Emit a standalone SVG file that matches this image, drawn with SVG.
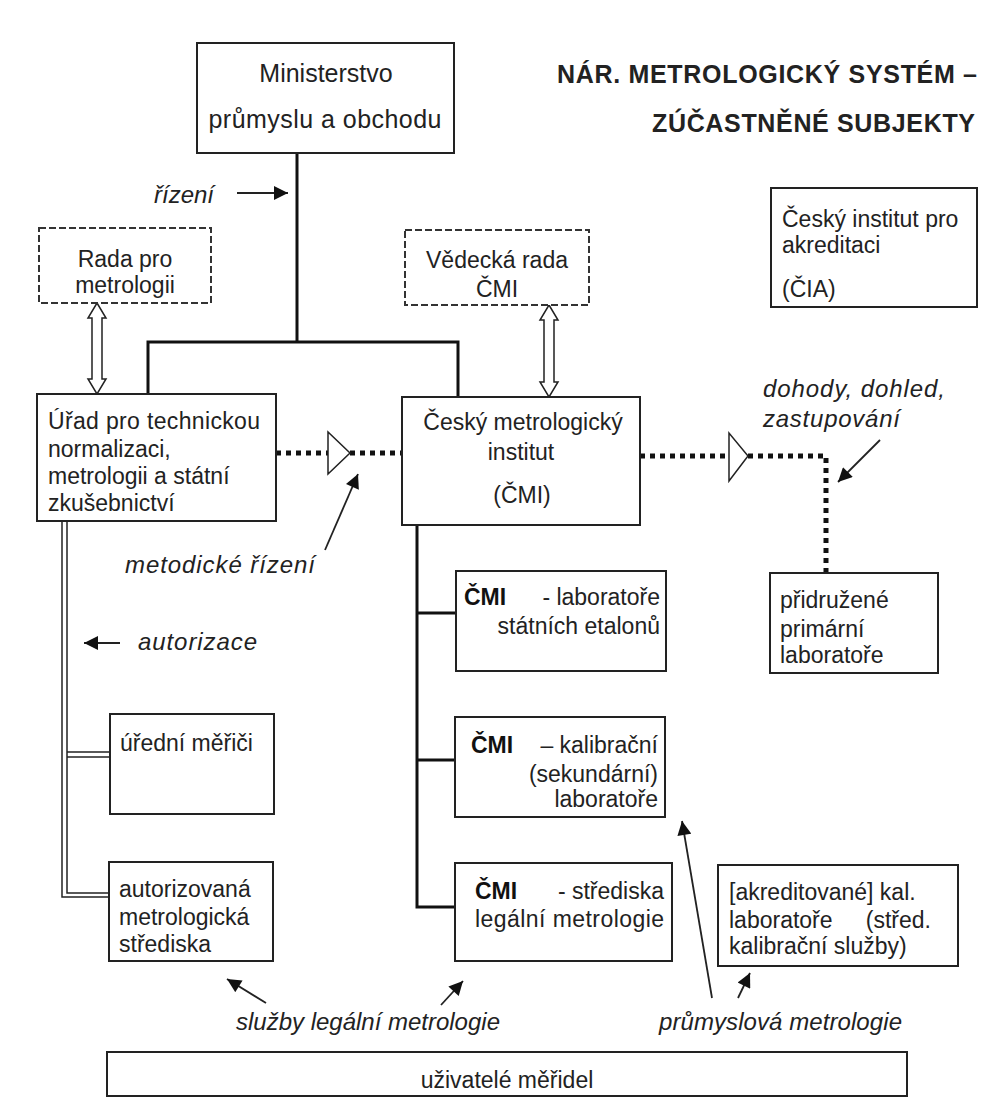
<svg xmlns="http://www.w3.org/2000/svg" width="982" height="1099" viewBox="0 0 982 1099">
<style>
.box{fill:#fff;stroke:#222;stroke-width:2}
.dash{fill:#fff;stroke:#333;stroke-width:2;stroke-dasharray:7 3}
.t{font-family:"Liberation Sans",Arial,sans-serif;font-size:23px;fill:#222}
.tb{font-family:"Liberation Sans",Arial,sans-serif;font-size:23px;font-weight:bold;fill:#111}
.it{font-family:"Liberation Sans",Arial,sans-serif;font-size:24px;font-style:italic;fill:#222}
.title{font-family:"Liberation Sans",Arial,sans-serif;font-size:25px;font-weight:bold;fill:#222}
.thick{fill:none;stroke:#111;stroke-width:3}
.thin{fill:none;stroke:#222;stroke-width:1.5}
.dot{fill:none;stroke:#111;stroke-width:5;stroke-dasharray:5 5}
.arr{fill:none;stroke:#222;stroke-width:1.8}
.hollow{fill:#fff;stroke:#222;stroke-width:1.5}
</style>
<defs>
<marker id="ah" viewBox="0 0 10 10" refX="10" refY="5" markerWidth="17" markerHeight="14" markerUnits="userSpaceOnUse" orient="auto"><path d="M0,0 L10,5 L0,10 z" fill="#111"/></marker>
</defs>
<rect width="982" height="1099" fill="#fff"/>

<g id="title">
<text class="title" x="557" y="83" textLength="420">NÁR. METROLOGICKÝ SYSTÉM –</text>
<text class="title" x="652" y="132" textLength="323">ZÚČASTNĚNÉ SUBJEKTY</text>
</g>

<g id="connectors">
<path class="thick" d="M297,153 V342 M148,394 V342 H458 V397"/>
<path class="thick" d="M417,525 V907 H455 M417,613 H456 M417,760 H455"/>
<path class="thin" d="M62,521 V897 H109 M67,521 V893 H109 M67,752 H110 M67,757 H110"/>
<path class="dot" d="M276,453 H328 M350,453 H402"/>
<polygon class="hollow" points="328,432 328,474 350,453"/>
<path class="dot" d="M640,456 H729 M748,456 H826 V573"/>
<polygon class="hollow" points="729,433 729,481 748,456"/>
<polygon class="hollow" points="97,303 106,318 102,318 102,379 106,379 97,394 88,379 92,379 92,318 88,318"/>
<polygon class="hollow" points="549,305 558,320 554,320 554,382 558,382 549,397 540,382 544,382 544,320 540,320"/>
<path class="arr" d="M237,193 H288" marker-end="url(#ah)"/>
<path class="arr" d="M325,550 L358,474" marker-end="url(#ah)"/>
<path class="arr" d="M880,440 L838,482" marker-end="url(#ah)"/>
<path class="arr" d="M120,643 H84" marker-end="url(#ah)"/>
<path class="arr" d="M712,998 L682,821" marker-end="url(#ah)"/>
<path class="arr" d="M738,998 L750,973" marker-end="url(#ah)"/>
<path class="arr" d="M266,1003 L227,979" marker-end="url(#ah)"/>
<path class="arr" d="M441,1005 L463,981" marker-end="url(#ah)"/>
</g>

<g id="labels">
<text class="it" x="154" y="203">řízení</text>
<text class="it" x="125" y="573" textLength="190">metodické řízení</text>
<text class="it" x="138" y="650" textLength="119">autorizace</text>
<text class="it" x="763" y="397" textLength="182">dohody, dohled,</text>
<text class="it" x="763" y="427" textLength="137">zastupování</text>
<text class="it" x="236" y="1030" textLength="264">služby legální metrologie</text>
<text class="it" x="659" y="1030" textLength="243">průmyslová metrologie</text>
</g>

<g id="ministerstvo">
<rect class="box" x="197" y="43" width="257" height="110"/>
<text class="t" x="326" y="82" text-anchor="middle" style="font-size:25px">Ministerstvo</text>
<text class="t" x="325" y="128" text-anchor="middle" style="font-size:25px" textLength="233">průmyslu a obchodu</text>
</g>

<g id="rada">
<rect class="dash" x="39" y="228" width="172" height="75"/>
<text class="t" x="125" y="267" text-anchor="middle">Rada pro</text>
<text class="t" x="125" y="293" text-anchor="middle">metrologii</text>
</g>

<g id="vedecka">
<rect class="dash" x="405" y="230" width="184" height="75"/>
<text class="t" x="497" y="268" text-anchor="middle">Vědecká rada</text>
<text class="t" x="497" y="297" text-anchor="middle">ČMI</text>
</g>

<g id="cia">
<rect class="box" x="771" y="188" width="206" height="119"/>
<text class="t" x="782" y="227">Český institut pro</text>
<text class="t" x="782" y="253">akreditaci</text>
<text class="t" x="782" y="297">(ČIA)</text>
</g>

<g id="urad">
<rect class="box" x="37" y="394" width="239" height="127"/>
<text class="t" x="48" y="429" textLength="212">Úřad pro technickou</text>
<text class="t" x="48" y="457">normalizaci,</text>
<text class="t" x="48" y="484">metrologii a státní</text>
<text class="t" x="48" y="511">zkušebnictví</text>
</g>

<g id="cmi">
<rect class="box" x="402" y="397" width="238" height="128"/>
<text class="t" x="523" y="430" text-anchor="middle">Český metrologický</text>
<text class="t" x="521" y="460" text-anchor="middle">institut</text>
<text class="t" x="522" y="503" text-anchor="middle">(ČMI)</text>
</g>

<g id="pridruzene">
<rect class="box" x="770" y="573" width="168" height="100"/>
<text class="t" x="780" y="608">přidružené</text>
<text class="t" x="780" y="637">primární</text>
<text class="t" x="780" y="663">laboratoře</text>
</g>

<g id="cmi-etalony">
<rect class="box" x="456" y="571" width="210" height="100"/>
<text class="tb" x="464" y="605">ČMI</text>
<text class="t" x="660" y="605" text-anchor="end">-  laboratoře</text>
<text class="t" x="660" y="634" text-anchor="end">státních etalonů</text>
</g>

<g id="cmi-kalibracni">
<rect class="box" x="455" y="717" width="210" height="100"/>
<text class="tb" x="471" y="753">ČMI</text>
<text class="t" x="658" y="753" text-anchor="end">– kalibrační</text>
<text class="t" x="658" y="782" text-anchor="end">(sekundární)</text>
<text class="t" x="658" y="807" text-anchor="end">laboratoře</text>
</g>

<g id="cmi-strediska">
<rect class="box" x="455" y="863" width="217" height="98"/>
<text class="tb" x="475" y="899">ČMI</text>
<text class="t" x="664" y="899" text-anchor="end">- střediska</text>
<text class="t" x="475" y="927" textLength="189">legální metrologie</text>
</g>

<g id="uredni">
<rect class="box" x="110" y="714" width="164" height="100"/>
<text class="t" x="120" y="751">úřední měřiči</text>
</g>

<g id="autorizovana">
<rect class="box" x="109" y="862" width="164" height="99"/>
<text class="t" x="119" y="897">autorizovaná</text>
<text class="t" x="119" y="925">metrologická</text>
<text class="t" x="119" y="952">střediska</text>
</g>

<g id="akreditovane">
<rect class="box" x="718" y="865" width="240" height="101"/>
<text class="t" x="729" y="900">[akreditované] kal.</text>
<text class="t" x="729" y="928">laboratoře</text>
<text class="t" x="931" y="928" text-anchor="end">(střed.</text>
<text class="t" x="729" y="954">kalibrační služby)</text>
</g>

<g id="uzivatele">
<rect class="box" x="107" y="1052" width="800" height="44"/>
<text class="t" x="507" y="1088" text-anchor="middle">uživatelé měřidel</text>
</g>
</svg>
